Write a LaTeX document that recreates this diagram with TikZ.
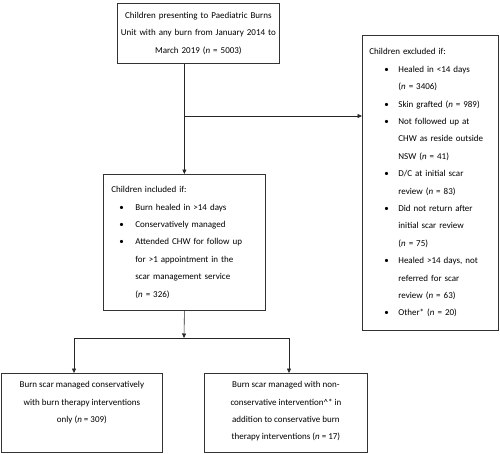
\documentclass[tikz,border=0pt]{standalone}
\usepackage{fontspec}
\setmainfont{Carlito}
\usetikzlibrary{arrows.meta, positioning}

% hanging bullet items inside the boxes
\newlength{\bulind}
\newlength{\bulpos}
\newcommand{\bul}[1]{\par\noindent\hangindent=\bulind\hangafter=1\makebox[\bulind][l]{\hspace{\bulpos}\textbullet}#1}

\begin{document}
\begin{tikzpicture}[
    x=1pt, y=-1pt,
    every node/.style={font={\fontsize{9}{17.4}\selectfont}},
    % boxes of the flow chart
    flowbox/.style={draw=black!80, line width=0.8pt, anchor=north west,
                    inner xsep=6pt, inner ysep=4pt},
    % connectors
    arrow/.style={-{Triangle[length=4.5pt, width=4pt]}, line width=0.6pt, draw=black!85},
    plain/.style={line width=0.6pt, draw=black!85}
]
\useasboundingbox (0,0) rectangle (500,453);

% === BOXES ===

% all children seen
\node[flowbox, inner xsep=3pt, text width=156pt, minimum height=60pt, align=center] (start) at (117,3)
    {Children presenting to Paediatric Burns\\ Unit with any burn from January 2014 to\\ March 2019 (\textit{n} = 5003)};

% excluded children
\node[flowbox, inner xsep=7pt, text width=122pt, minimum height=295pt, align=left] (excl) at (362,35)
    {\setlength{\bulind}{29pt}\setlength{\bulpos}{15pt}%
    Children excluded if:
    \bul{Healed in <14 days\newline (\textit{n} = 3406)}
    \bul{Skin grafted (\textit{n} = 989)}
    \bul{Not followed up at\newline CHW as reside outside\newline NSW (\textit{n} = 41)}
    \bul{D/C at initial scar\newline review (\textit{n} = 83)}
    \bul{Did not return after\newline initial scar review\newline (\textit{n} = 75)}
    \bul{Healed >14 days, not\newline referred for scar\newline review (\textit{n} = 63)}
    \bul{Other* (\textit{n} = 20)}\par};

% included children
\node[flowbox, inner xsep=8pt, text width=146pt, minimum height=136pt, align=left] (incl) at (103,174)
    {\setlength{\bulind}{24pt}\setlength{\bulpos}{8pt}%
    Children included if:
    \bul{Burn healed in >14 days}
    \bul{Conservatively managed}
    \bul{Attended CHW for follow up\newline for >1 appointment in the\newline scar management service\newline (\textit{n} = 326)}\par};

% outcomes
\node[flowbox, inner ysep=8pt] (cons) at (1,373)
    {\parbox[t][63pt][t]{149pt}{\centering
    Burn scar managed conservatively\\ with burn therapy interventions\\ only (\textit{n} = 309)}};
\node[flowbox, inner ysep=8pt] (noncons) at (204,373)
    {\parbox[t][63pt][t]{151pt}{\centering
    Burn scar managed with non-\\ conservative intervention\textasciicircum* in\\ addition to conservative burn\\ therapy interventions (\textit{n} = 17)}};

% === CONNECTORS ===
\coordinate (split) at (184,116);
\coordinate (fork) at (184,338);
\coordinate (forkL) at (74,338);
\coordinate (forkR) at (289,338);

\draw[arrow] (start.south -| incl.north) -- (incl.north);
\draw[arrow] (split) -- (split -| excl.west);
\draw[arrow] (incl.south) -- (fork);
\draw[plain] (forkL) -- (forkR);
\draw[arrow] (forkL) -- (forkL |- cons.north);
\draw[arrow] (forkR) -- (forkR |- noncons.north);

\end{tikzpicture}
\end{document}
